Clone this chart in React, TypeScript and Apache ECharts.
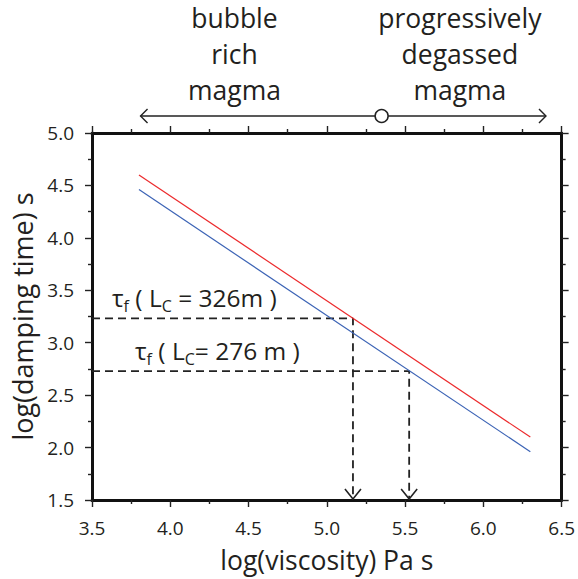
import React, { useEffect, useRef } from 'react';
import * as echarts from 'echarts';

// ---- data ----
const viscosity = [3.8, 6.3];
const dampingRed = [4.6, 2.1];
const dampingBlue = [4.46, 1.96];
const guideViscosity = [5.167, 5.526];
const guideDamping = [3.233, 2.73];
const guideLabels = [
  '{m|τ}{s|f}{m| ( L}{s|C}{m| = 326m )}',
  '{m|τ}{s|f}{m| ( L}{s|C}{m|= 276 m )}',
];
const regimeTexts = ['bubble\nrich\nmagma', 'progressively\ndegassed\nmagma'];
const regimeTextX = [4.41, 5.85];
const regimeArrowRange = [3.81, 6.4];
const regimeSplit = 5.35;
const xMin = 3.5, xMax = 6.5, yMin = 1.5, yMax = 5.0;

const FONT = '"Open Sans", "Noto Sans", sans-serif';
const INK = '#231f20';

export default function App() {
  const ref = useRef<HTMLDivElement>(null);
  useEffect(() => {
    if (!ref.current) return;
    const chart = echarts.init(ref.current, undefined, { renderer: 'svg' });

    const axisCommon = (show: boolean, isX: boolean) => ({
      type: 'value' as const,
      axisLine: { show: true, onZero: false, lineStyle: { color: '#111', width: 3 } },
      axisTick: { show: true, inside: false, length: 7, lineStyle: { color: '#222', width: 1.4 } },
      minorTick: { show: true, splitNumber: 2, length: 4, lineStyle: { color: '#222', width: 1.4 } },
      splitLine: { show: false },
      minorSplitLine: { show: false },
      axisLabel: {
        show,
        formatter: (v: number) => v.toFixed(1),
        fontSize: 19,
        lineHeight: 20,
        color: INK,
        fontFamily: FONT,
        margin: isX ? 18 : 18,
      },
    });

    const guideSeries = guideViscosity.map((gx, i) => ({
      type: 'line' as const,
      data: [
        [xMin, guideDamping[i]],
        [gx, guideDamping[i]],
        [gx, yMin],
      ],
      symbol: 'none',
      silent: true,
      lineStyle: { color: '#222', width: 1.8, type: [8, 5] as any },
      z: 3,
    }));

    chart.setOption({
      animation: false,
      backgroundColor: '#ffffff',
      grid: { left: 92, right: 14, top: 133, bottom: 79, containLabel: false },
      xAxis: [
        {
          ...axisCommon(true, true),
          min: xMin,
          max: xMax,
          interval: 0.5,
          position: 'bottom',
          name: 'log(viscosity) Pa s',
          nameLocation: 'middle',
          nameGap: 46,
          nameTextStyle: { fontSize: 26.5, lineHeight: 28, color: INK, fontFamily: FONT },
        },
        { ...axisCommon(false, true), min: xMin, max: xMax, interval: 0.5, position: 'top' },
      ],
      yAxis: [
        {
          ...axisCommon(true, false),
          min: yMin,
          max: yMax,
          interval: 0.5,
          position: 'left',
          name: 'log(damping time) s',
          nameLocation: 'middle',
          nameGap: 52,
          nameTextStyle: { fontSize: 27, lineHeight: 28, color: INK, fontFamily: FONT },
        },
        { ...axisCommon(false, false), min: yMin, max: yMax, interval: 0.5, position: 'right' },
      ],
      series: [
        {
          type: 'line',
          data: viscosity.map((v, i) => [v, dampingRed[i]]),
          symbol: 'none',
          lineStyle: { color: '#ec2a2c', width: 1.2 },
          z: 4,
        },
        {
          type: 'line',
          data: viscosity.map((v, i) => [v, dampingBlue[i]]),
          symbol: 'none',
          lineStyle: { color: '#3b63b5', width: 1.2 },
          z: 4,
        },
        ...guideSeries,
      ],
    });

    const px = (x: number, y: number) => chart.convertToPixel({ gridIndex: 0 }, [x, y]) as number[];
    const gridLeft = px(xMin, yMax)[0];
    const gridTop = px(xMin, yMax)[1];
    const arrowY = gridTop - 17;
    const aL = px(regimeArrowRange[0], yMax)[0];
    const aR = px(regimeArrowRange[1], yMax)[0];
    const cX = px(regimeSplit, yMax)[0];

    const graphics: any[] = [];
    // top regime arrow
    graphics.push({
      type: 'line',
      shape: { x1: aL, y1: arrowY, x2: aR, y2: arrowY },
      style: { stroke: '#222', lineWidth: 1.4 },
    });
    graphics.push({
      type: 'polyline',
      shape: { points: [[aL + 7, arrowY - 7], [aL, arrowY], [aL + 7, arrowY + 7]] },
      style: { stroke: '#222', lineWidth: 1.4, fill: 'none' },
    });
    graphics.push({
      type: 'polyline',
      shape: { points: [[aR - 7, arrowY - 7], [aR, arrowY], [aR - 7, arrowY + 7]] },
      style: { stroke: '#222', lineWidth: 1.4, fill: 'none' },
    });
    graphics.push({
      type: 'circle',
      shape: { cx: cX, cy: arrowY, r: 6.5 },
      style: { fill: '#fff', stroke: '#222', lineWidth: 1.5 },
      z: 10,
    });
    // regime texts
    regimeTexts.forEach((t, i) => {
      graphics.push({
        type: 'text',
        x: px(regimeTextX[i], yMax)[0],
        y: 0,
        style: {
          text: t,
          fill: INK,
          fontSize: 26.5,
          fontFamily: FONT,
          lineHeight: 36,
          align: 'center',
          verticalAlign: 'top',
        },
      });
    });
    // guide arrowheads and labels
    guideViscosity.forEach((gx, i) => {
      const [bx, by] = px(gx, yMin);
      graphics.push({
        type: 'polyline',
        shape: { points: [[bx - 8, by - 11], [bx, by - 1], [bx + 8, by - 11]] },
        style: { stroke: '#222', lineWidth: 1.6, fill: 'none' },
        z: 10,
      });
      const gy = px(gx, guideDamping[i])[1];
      graphics.push({
        type: 'text',
        x: gridLeft + (i === 0 ? 20 : 43),
        y: gy - 33,
        style: {
          text: guideLabels[i],
          fill: INK,
          align: 'left',
          verticalAlign: 'top',
          rich: {
            m: { fontSize: 24.5, fontFamily: FONT, lineHeight: 25, verticalAlign: 'top', fill: INK },
            s: { fontSize: 16, fontFamily: FONT, lineHeight: 16, padding: [13, 0, 0, 0], verticalAlign: 'top', fill: INK },
          },
        },
        z: 10,
      });
    });

    chart.setOption({ graphic: graphics });

    return () => chart.dispose();
  }, []);

  return (
    <div
      ref={ref}
      style={{ position: 'absolute', left: 0, top: 0, width: 578, height: 579, background: '#fff' }}
    />
  );
}
